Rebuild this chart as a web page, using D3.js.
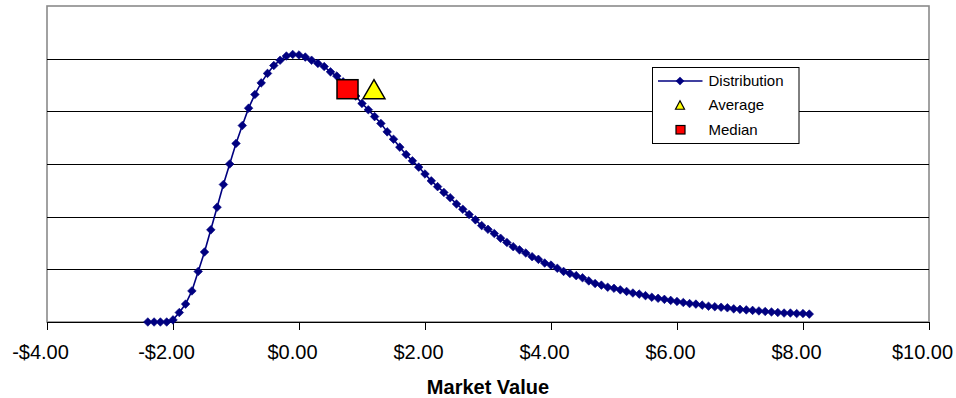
<!DOCTYPE html>
<html>
<head>
<meta charset="utf-8">
<script src="https://cdn.jsdelivr.net/npm/d3@7"></script>
<style>
  html, body { margin: 0; padding: 0; background: #fff; }
  svg { display: block; }
  text { font-family: "Liberation Sans", Arial, Helvetica, sans-serif; }
</style>
</head>
<body>
<svg id="chart" width="956" height="398"></svg>
<script>
// Simulated market value distribution (frequency, %)
const marketValues = [
  -2.4, -2.3, -2.2, -2.1, -2.0, -1.9, -1.8, -1.7, -1.6, -1.5,
  -1.4, -1.3, -1.2, -1.1, -1.0, -0.9, -0.8, -0.7, -0.6, -0.5,
  -0.4, -0.3, -0.2, -0.1, 0.0, 0.1, 0.2, 0.3, 0.4, 0.5,
  0.6, 0.7, 0.8, 0.9, 1.0, 1.1, 1.2, 1.3, 1.4, 1.5,
  1.6, 1.7, 1.8, 1.9, 2.0, 2.1, 2.2, 2.3, 2.4, 2.5,
  2.6, 2.7, 2.8, 2.9, 3.0, 3.1, 3.2, 3.3, 3.4, 3.5,
  3.6, 3.7, 3.8, 3.9, 4.0, 4.1, 4.2, 4.3, 4.4, 4.5,
  4.6, 4.7, 4.8, 4.9, 5.0, 5.1, 5.2, 5.3, 5.4, 5.5,
  5.6, 5.7, 5.8, 5.9, 6.0, 6.1, 6.2, 6.3, 6.4, 6.5,
  6.6, 6.7, 6.8, 6.9, 7.0, 7.1, 7.2, 7.3, 7.4, 7.5,
  7.6, 7.7, 7.8, 7.9, 8.0, 8.1
];
const frequency = [
  0.00, 0.00, 0.00, 0.00, 0.04, 0.18, 0.34, 0.59, 0.96, 1.33,
  1.75, 2.18, 2.61, 3.00, 3.39, 3.73, 4.06, 4.32, 4.54, 4.72,
  4.87, 4.97, 5.05, 5.08, 5.07, 5.03, 4.97, 4.91, 4.85, 4.75,
  4.67, 4.56, 4.42, 4.29, 4.15, 4.03, 3.90, 3.77, 3.61, 3.47,
  3.32, 3.18, 3.06, 2.94, 2.81, 2.68, 2.57, 2.46, 2.36, 2.24,
  2.14, 2.04, 1.94, 1.83, 1.76, 1.68, 1.59, 1.51, 1.43, 1.37,
  1.31, 1.24, 1.19, 1.12, 1.08, 1.02, 0.96, 0.92, 0.88, 0.84,
  0.78, 0.73, 0.70, 0.66, 0.64, 0.61, 0.58, 0.55, 0.53, 0.50,
  0.47, 0.45, 0.43, 0.41, 0.39, 0.37, 0.35, 0.34, 0.32, 0.30,
  0.29, 0.28, 0.27, 0.25, 0.24, 0.23, 0.22, 0.21, 0.20, 0.19,
  0.18, 0.17, 0.17, 0.16, 0.16, 0.15
];

// Summary statistics, plotted at a common height
const averagePoint = [1.19, 4.42];
const medianPoint = [0.77, 4.42];

const xTicks = [-4, -2, 0, 2, 4, 6, 8, 10];
const xTickLabels = ["-$4.00", "-$2.00", "$0.00", "$2.00", "$4.00", "$6.00", "$8.00", "$10.00"];
const yGrid = [1, 2, 3, 4, 5];
const legendLabels = ["Distribution", "Average", "Median"];
const axisTitle = "Market Value";

const navy = "#000080";
const svg = d3.select("#chart");
const plot = { left: 47, right: 929, top: 6, bottom: 322 };

const x = d3.scaleLinear().domain([-4, 10]).range([plot.left, plot.right]);
const y = d3.scaleLinear().domain([0, 6]).range([plot.bottom, plot.top]);

// plot area frame
svg.append("rect")
  .attr("x", plot.left).attr("y", plot.top)
  .attr("width", plot.right - plot.left).attr("height", plot.bottom - plot.top)
  .attr("fill", "#fff").attr("stroke", "#8a8a8a").attr("stroke-width", 1.6);

// horizontal gridlines
svg.append("g").selectAll("line").data(yGrid).join("line")
  .attr("x1", plot.left).attr("x2", plot.right)
  .attr("y1", d => Math.round(y(d)) + 0.5).attr("y2", d => Math.round(y(d)) + 0.5)
  .attr("stroke", "#000").attr("stroke-width", 1);

// x axis
const xAxis = d3.axisBottom(x)
  .tickValues(xTicks)
  .tickSize(8)
  .tickFormat((d, i) => xTickLabels[i]);

const gx = svg.append("g")
  .attr("transform", `translate(0,${plot.bottom})`)
  .call(xAxis);
gx.select(".domain").attr("stroke", "#000").attr("d", `M${plot.left},0.5H${plot.right}`);
gx.selectAll(".tick line").attr("stroke", "#000");
gx.selectAll(".tick text")
  .attr("fill", "#000")
  .attr("font-size", 20)
  .attr("font-family", "'Liberation Sans', Arial, sans-serif")
  .attr("dx", -7)
  .attr("dy", 0)
  .attr("y", 37);

svg.append("text")
  .attr("x", (plot.left + plot.right) / 2)
  .attr("y", 394)
  .attr("text-anchor", "middle")
  .attr("font-size", 20)
  .attr("font-weight", "bold")
  .text(axisTitle);

// distribution curve
const points = marketValues.map((v, i) => [v, frequency[i]]);
const line = d3.line().x(d => x(d[0])).y(d => y(d[1]));

svg.append("path")
  .datum(points)
  .attr("d", line)
  .attr("fill", "none")
  .attr("stroke", navy)
  .attr("stroke-width", 1.6);

const diamond = r => `M0,${-r}L${r},0L0,${r}L${-r},0Z`;

svg.append("g").selectAll("path").data(points).join("path")
  .attr("transform", d => `translate(${x(d[0])},${y(d[1])})`)
  .attr("d", diamond(4.3))
  .attr("fill", navy)
  .attr("stroke", navy)
  .attr("stroke-width", 0.6);

// median and average markers
const triangle = (w, h) => `M0,${-h / 2}L${w / 2},${h / 2}L${-w / 2},${h / 2}Z`;

svg.append("rect")
  .attr("x", x(medianPoint[0]) - 10.5)
  .attr("y", y(medianPoint[1]) - 9.5)
  .attr("width", 21).attr("height", 19)
  .attr("fill", "#ff0000").attr("stroke", "#000").attr("stroke-width", 1.5);

svg.append("path")
  .attr("transform", `translate(${x(averagePoint[0])},${y(averagePoint[1])})`)
  .attr("d", triangle(22, 19))
  .attr("fill", "#ffff00").attr("stroke", "#000").attr("stroke-width", 1.5)
  .attr("stroke-linejoin", "miter");

// legend
const lg = svg.append("g").attr("transform", "translate(652.5,67.5)");
lg.append("rect")
  .attr("width", 146.5).attr("height", 76)
  .attr("fill", "#fff").attr("stroke", "#000").attr("stroke-width", 1);

const rowY = [13.5, 37.5, 62.5];
lg.append("line")
  .attr("x1", 5.5).attr("x2", 50).attr("y1", rowY[0]).attr("y2", rowY[0])
  .attr("stroke", navy).attr("stroke-width", 1.5);
lg.append("path")
  .attr("transform", `translate(27.5,${rowY[0]})`)
  .attr("d", diamond(4.3)).attr("fill", navy);
lg.append("path")
  .attr("transform", `translate(27.5,${rowY[1]})`)
  .attr("d", triangle(9, 8.5))
  .attr("fill", "#ffff00").attr("stroke", "#000").attr("stroke-width", 1.2);
lg.append("rect")
  .attr("x", 23.5).attr("y", rowY[2] - 4.5)
  .attr("width", 9).attr("height", 8.5)
  .attr("fill", "#ff0000").attr("stroke", "#000").attr("stroke-width", 1.2);

lg.selectAll("text.lbl").data(legendLabels).join("text")
  .attr("class", "lbl")
  .attr("x", 56)
  .attr("y", (d, i) => rowY[i] + 5.3)
  .attr("font-size", 15)
  .attr("fill", "#000")
  .text(d => d);
</script>
</body>
</html>
